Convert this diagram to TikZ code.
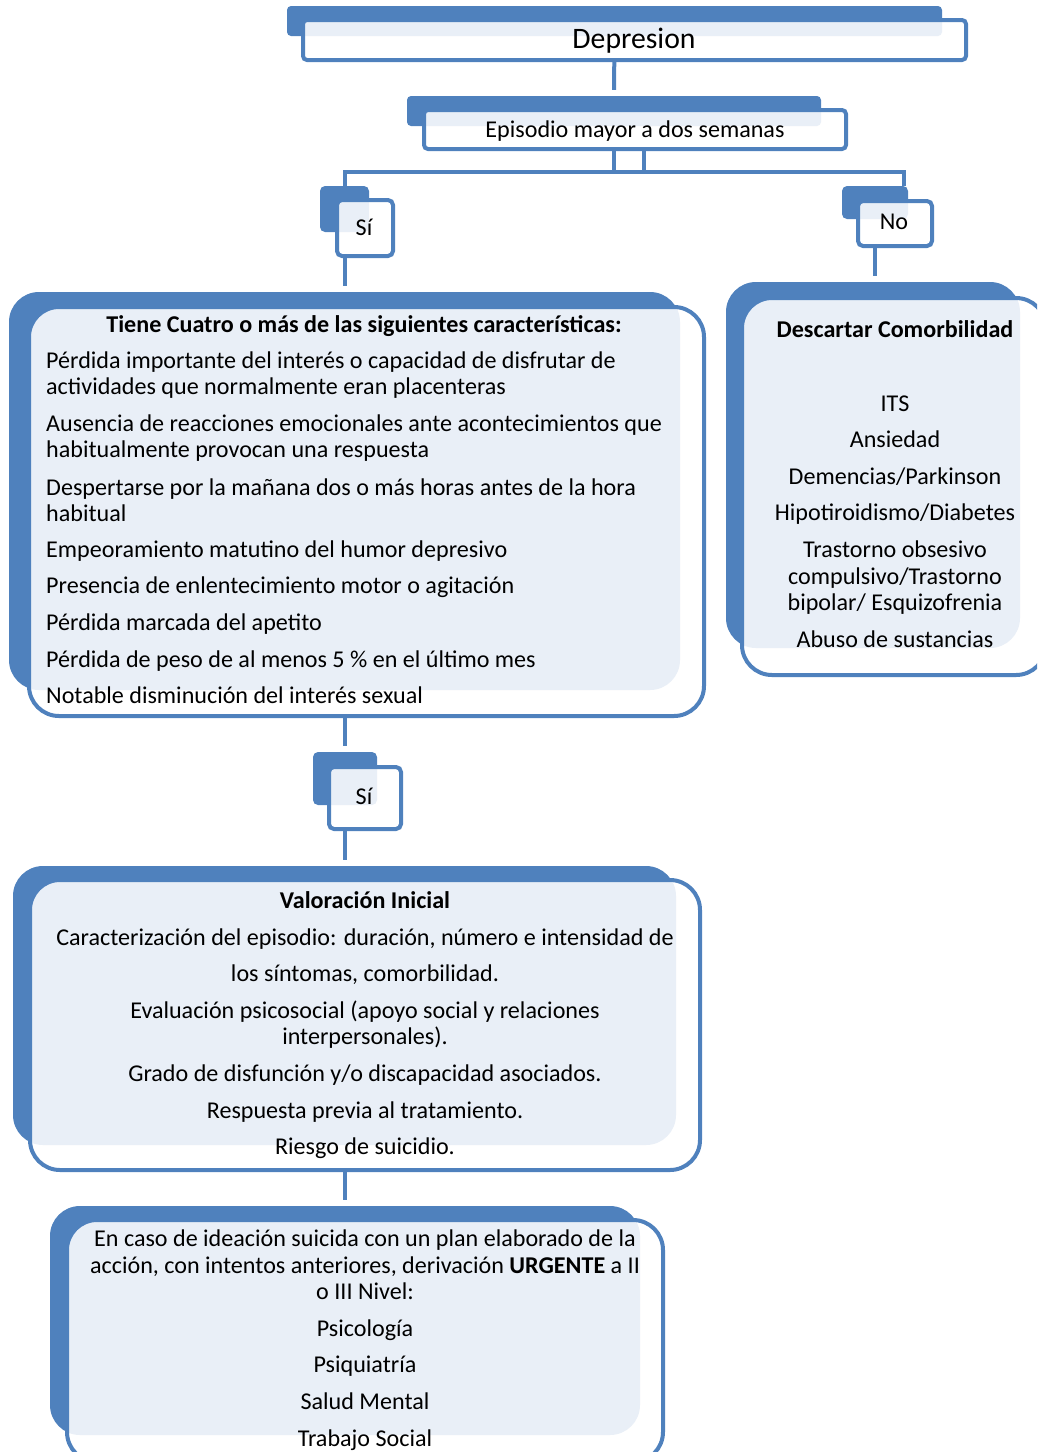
\documentclass[tikz,border=0pt]{standalone}
\usepackage{fontspec}
\setmainfont{Carlito}
\usetikzlibrary{fit,backgrounds}
\definecolor{panelblue}{HTML}{4F81BD}
\definecolor{panellight}{HTML}{E9EFF7}

\tikzset{
  link/.style={draw=panelblue, line width=4pt},
  gap/.style={shorten >=6pt},
  txt/.style={inner sep=0pt, font=\fontsize{24.1}{26}\selectfont},
  ttl/.style={inner sep=0pt, font=\fontsize{24.1}{26}\selectfont\bfseries},
  backpanel/.style={fill=panelblue},
  frontpanel/.style={fill=white},
  lightpanel/.style={fill=panellight},
  rimpanel/.style={draw=panelblue, line width=4pt},
  boxname/.style={inner sep=0pt, draw=none},
}

% #1 name, #2-#5 back corners (x1,y1,x2,y2), #6-#9 front corners; radius in \panelr
\newcommand\panel[9]{%
  \fill[backpanel, rounded corners=\panelr] (#2,#3) rectangle (#4,#5);
  \fill[frontpanel, rounded corners=\panelr] (#6,#7) rectangle (#8,#9);
  \begin{scope}
    \clip[rounded corners=\panelr] (#2,#3) rectangle (#4,#5);
    \fill[lightpanel, rounded corners=\panelr] (#6,#7) rectangle (#8,#9);
  \end{scope}
  \draw[rimpanel, rounded corners=\panelr] (#6,#7) rectangle (#8,#9);
  \node[boxname, fit={(#2,#3) (#4,#5)}] (#1b) {};
  \node[boxname, fit={(#6,#7) (#8,#9)}] (#1f) {};
}

\begin{document}
\begin{tikzpicture}[x=1pt, y=-1pt]
\useasboundingbox (0,0) rectangle (1037,1452);
\clip (0,0) rectangle (1037,1452);

% small header boxes
\def\panelr{4pt}
\panel{dep}{287}{6}{942}{36}{303}{20}{966}{60}
\panel{epi}{407}{96}{821}{126}{424}{110}{846}{149}
\def\panelr{5pt}
\panel{si}{320}{186}{369}{232}{337}{200}{393}{256}
\panel{no}{842}{186}{908}{219}{858}{201}{932}{246}
\panel{sidos}{313}{752}{377}{805}{329}{767}{401}{829}

% large panels
\def\panelr{30pt}
\panel{cri}{9}{292}{680}{690}{29}{307}{704}{716}
\panel{com}{726}{282}{1020}{648}{742}{298}{1046}{675}
\panel{val}{13}{866}{676}{1145}{30}{880}{700}{1170}
\panel{der}{50}{1206}{640}{1435}{67}{1220}{663}{1462}

% connectors
\coordinate (split) at (644,140);
\coordinate (busR) at (904,172);
\begin{scope}[on background layer]
  \draw[link, gap] (depb.south) -- (epib.north);
  \draw[link] (split) |- (sib.north |- busR) -- (sib.north);
  \draw[link] (epib.south) |- (busR) -- (busR |- nob.north);
  \draw[link, gap] (sib.south) -- (sib.south |- crib.north);
  \draw[link, gap] (nob.south) -- (nob.south |- comb.north);
  \draw[link, gap] (crib.south) -- (crib.south |- sidosb.north);
  \draw[link, gap] (sidosb.south) -- (sidosb.south |- valb.north);
  \draw[link, gap] (valb.south) -- (valb.south |- derb.north);
\end{scope}

% labels of the header boxes
\node[inner sep=0pt, font=\fontsize{29.7}{32}\selectfont, anchor=base] (tdep) at (634,48) {Depresion};
\node[txt, anchor=base] (tepi) at (635,137) {Episodio mayor a dos semanas};
\node[txt, anchor=base] (tsi) at (364,235) {Sí};
\node[txt, anchor=base] (tno) at (894,229) {No};
\node[txt, anchor=base] (tsidos) at (364,804) {Sí};

% criteria panel
\node[ttl, anchor=base] (c0) at (364,332) {Tiene Cuatro o más de las siguientes características:};
\node[txt, anchor=base west] (c1) at (46,368) {Pérdida importante del interés o capacidad de disfrutar de};
\node[txt, anchor=base west] (c2) at (46,394) {actividades que normalmente eran placenteras};
\node[txt, anchor=base west] (c3) at (46,431) {Ausencia de reacciones emocionales ante acontecimientos que};
\node[txt, anchor=base west] (c4) at (46,457) {habitualmente provocan una respuesta};
\node[txt, anchor=base west] (c5) at (46,495) {Despertarse por la mañana dos o más horas antes de la hora};
\node[txt, anchor=base west] (c6) at (46,521) {habitual};
\node[txt, anchor=base west] (c7) at (46,557) {Empeoramiento matutino del humor depresivo};
\node[txt, anchor=base west] (c8) at (46,593) {Presencia de enlentecimiento motor o agitación};
\node[txt, anchor=base west] (c9) at (46,630) {Pérdida marcada del apetito};
\node[txt, anchor=base west] (c10) at (46,667) {Pérdida de peso de al menos 5~\% en el último mes};
\node[txt, anchor=base west] (c11) at (46,703) {Notable disminución del interés sexual};

% comorbidity panel
\node[ttl, anchor=base] (m0) at (895,337) {Descartar Comorbilidad};
\node[txt, anchor=base] (m1) at (895,411) {ITS};
\node[txt, anchor=base] (m2) at (895,447) {Ansiedad};
\node[txt, anchor=base] (m3) at (895,484) {Demencias/Parkinson};
\node[txt, anchor=base] (m4) at (895,520) {Hipotiroidismo/Diabetes};
\node[txt, anchor=base] (m5) at (895,557) {Trastorno obsesivo};
\node[txt, anchor=base] (m6) at (895,584) {compulsivo/Trastorno};
\node[txt, anchor=base] (m7) at (895,610) {bipolar/ Esquizofrenia};
\node[txt, anchor=base] (m8) at (895,647) {Abuso de sustancias};

% initial assessment panel
\node[ttl, anchor=base] (v0) at (365,908) {Valoración Inicial};
\node[txt, anchor=base] (v1) at (365,945) {Caracterización del episodio: duración, número e intensidad de};
\node[txt, anchor=base] (v2) at (365,981) {los síntomas, comorbilidad.};
\node[txt, anchor=base] (v3) at (365,1018) {Evaluación psicosocial (apoyo social y relaciones};
\node[txt, anchor=base] (v4) at (365,1044) {interpersonales).};
\node[txt, anchor=base] (v5) at (365,1081) {Grado de disfunción y/o discapacidad asociados.};
\node[txt, anchor=base] (v6) at (365,1118) {Respuesta previa al tratamiento.};
\node[txt, anchor=base] (v7) at (365,1154) {Riesgo de suicidio.};

% referral panel
\node[txt, anchor=base] (d1) at (365,1246) {En caso de ideación suicida con un plan elaborado de la};
\node[txt, anchor=base] (d2) at (365,1273) {acción, con intentos anteriores, derivación \textbf{URGENTE} a II};
\node[txt, anchor=base] (d3) at (365,1299) {o III Nivel:};
\node[txt, anchor=base] (d4) at (365,1336) {Psicología};
\node[txt, anchor=base] (d5) at (365,1372) {Psiquiatría};
\node[txt, anchor=base] (d6) at (365,1409) {Salud Mental};
\node[txt, anchor=base] (d7) at (365,1446) {Trabajo Social};
\end{tikzpicture}
\end{document}
